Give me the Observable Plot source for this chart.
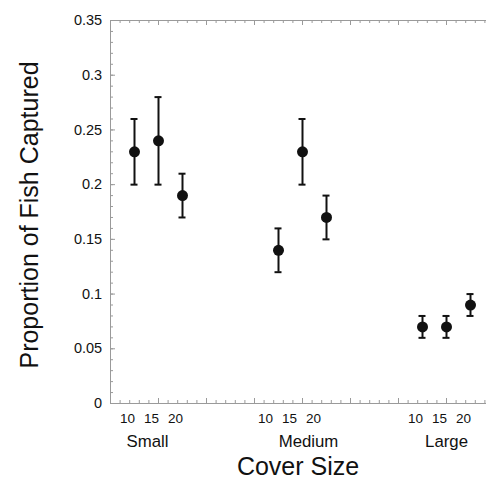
<!DOCTYPE html>
<html><head><meta charset="utf-8">
<script src="https://cdn.jsdelivr.net/npm/d3@7"></script>
<script src="https://cdn.jsdelivr.net/npm/@observablehq/plot@0.6"></script>
<style>body{margin:0;background:#fff} svg{display:block}</style>
</head><body><div id="chart"></div>
<script>
const groups = ["Small","Small","Small","Medium","Medium","Medium","Large","Large","Large"];
const coverSizes = ["10","15","20","10","15","20","10","15","20"];
const xValues = [5,10,15,35,40,45,65,70,75];
const means = [0.23,0.24,0.19,0.14,0.23,0.17,0.07,0.07,0.09];
const lower = [0.20,0.20,0.17,0.12,0.20,0.15,0.06,0.06,0.08];
const upper = [0.26,0.28,0.21,0.16,0.26,0.19,0.08,0.08,0.10];
const groupNames = ["Small","Medium","Large"];
const groupCenters = [10,40,70];
const yTicks = [0,0.05,0.1,0.15,0.2,0.25,0.3,0.35];
const yMinor = d3.range(0, 36).map(d => d / 100);
const xMajor = d3.range(0, 79, 10);
const xMinor = d3.range(0, 79, 2);

const data = groups.map((g, i) => ({group: g, size: coverSizes[i], x: xValues[i], mean: means[i], lo: lower[i], hi: upper[i]}));
const groupData = groupNames.map((g, i) => ({group: g, x: groupCenters[i]}));

const W = 486, H = 478, mL = 110, mR = 0, mT = 20, mB = 75;
const fw = W - mL - mR, fh = H - mT - mB;
const axisColor = "#9a9a9a";

const labelMark = (g, dx) => Plot.text(data.filter(d => d.group === g), {
  x: "x", text: "size", frameAnchor: "bottom", lineAnchor: "bottom", dy: 19.5, dx, fontSize: 13.5, fill: "#111"
});
const groupMark = (g, dx) => Plot.text(groupData.filter(d => d.group === g), {
  x: "x", text: "group", frameAnchor: "bottom", lineAnchor: "bottom", dy: 43.5, dx, fontSize: 16.8, fill: "#111"
});

const chart = Plot.plot({
  width: W, height: H,
  marginLeft: mL, marginRight: mR, marginTop: mT, marginBottom: mB,
  style: {fontFamily: "'Liberation Sans', Arial, Helvetica, sans-serif", background: "#fff"},
  x: {domain: [0, fw / 4.8], axis: null},
  y: {domain: [0, 0.35], axis: null},
  marks: [
    // frame lines
    Plot.ruleX([0], {stroke: axisColor}),
    Plot.ruleY([0], {stroke: axisColor}),
    Plot.ruleY([0.35], {stroke: axisColor}),
    // left ticks
    Plot.tickY(yMinor, {y: d => d, insetRight: fw - 3, stroke: axisColor}),
    Plot.tickY(yTicks, {y: d => d, insetRight: fw - 5, stroke: axisColor}),
    // bottom ticks
    Plot.tickX(xMinor, {x: d => d, insetTop: fh - 3, stroke: axisColor}),
    Plot.tickX(xMajor, {x: d => d, insetTop: fh - 5, stroke: axisColor}),
    // top ticks
    Plot.tickX(xMinor, {x: d => d, insetBottom: fh - 3, stroke: axisColor}),
    Plot.tickX(xMajor, {x: d => d, insetBottom: fh - 5, stroke: axisColor}),
    // y tick labels
    Plot.text(yTicks, {y: d => d, text: d => String(+d.toFixed(2)), frameAnchor: "left", textAnchor: "end", dx: -8.3, fontSize: 14.5, fill: "#111"}),
    // error bars
    Plot.ruleX(data, {x: "x", y1: "lo", y2: "hi", stroke: "#111", strokeWidth: 2}),
    Plot.ruleY(data, {y: "lo", x1: "x", x2: "x", insetLeft: -3.5, insetRight: -3.5, stroke: "#111", strokeWidth: 2}),
    Plot.ruleY(data, {y: "hi", x1: "x", x2: "x", insetLeft: -3.5, insetRight: -3.5, stroke: "#111", strokeWidth: 2}),
    Plot.dot(data, {x: "x", y: "mean", r: 5.5, fill: "#111", stroke: "none"}),
    // x labels
    labelMark("Small", -7), labelMark("Medium", -13), labelMark("Large", -7),
    groupMark("Small", -11), groupMark("Medium", 6), groupMark("Large", 0),
    // axis titles
    Plot.text(["Cover Size"], {text: d => d, frameAnchor: "bottom", textAnchor: "middle", lineAnchor: "bottom", dy: 71, dx: -0.5, fontSize: 25, fill: "#111"}),
    Plot.text(["Proportion of Fish Captured"], {text: d => d, frameAnchor: "left", textAnchor: "middle", rotate: -90, lineAnchor: "bottom", dx: -73, dy: 3, fontSize: 25, fill: "#111"})
  ]
});
document.getElementById("chart").appendChild(chart);
</script>
</body></html>
